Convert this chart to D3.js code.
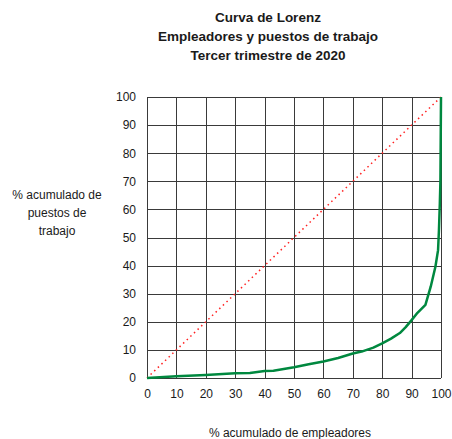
<!DOCTYPE html>
<html lang="es">
<head>
<meta charset="UTF-8" />
<title>Curva de Lorenz</title>
<script src="https://d3js.org/d3.v7.min.js"></script>
<style>
  body { margin: 0; background: #fff; font-family: "Liberation Sans", Arial, sans-serif; }
  .grid line { stroke: #3a3a3a; stroke-width: 1; shape-rendering: crispEdges; }
  .tick text { font-size: 12px; fill: #1a1a1a; font-family: "Liberation Sans", Arial, sans-serif; }
  .lbl { font-size: 12px; fill: #1a1a1a; }
  .title { font-size: 13.5px; font-weight: bold; fill: #1a1a1a; }
</style>
</head>
<body>
<svg id="chart" width="452" height="439"></svg>
<script>
  // % acumulado de empleadores
  const empleadores = [0, 10, 20, 30, 35, 40, 43, 50, 55, 60, 65, 70, 73, 77, 80, 83, 86, 88, 90, 92, 94.7, 96.5, 98.1, 99, 99.3, 99.6, 99.8, 100];
  // % acumulado de puestos de trabajo
  const puestos = [0, 0.6, 1.1, 1.7, 1.8, 2.5, 2.6, 3.8, 4.9, 5.9, 7.1, 8.7, 9.4, 10.8, 12.3, 14.0, 16.0, 18.1, 20.6, 23.2, 26.0, 32.5, 39.6, 45.5, 52.6, 62, 70, 100];
  const ticks = [0, 10, 20, 30, 40, 50, 60, 70, 80, 90, 100];
  const titulo = ["Curva de Lorenz", "Empleadores y puestos de trabajo", "Tercer trimestre de 2020"];
  const ejeY = ["% acumulado de", "puestos de", "trabajo"];
  const ejeX = "% acumulado de empleadores";

  const svg = d3.select("#chart");
  const x = d3.scaleLinear().domain([0, 100]).range([147, 441]);
  const y = d3.scaleLinear().domain([0, 100]).range([378, 97]);

  // grid
  const grid = svg.append("g").attr("class", "grid");
  grid.selectAll("line.v").data(ticks).join("line")
    .attr("class", "v")
    .attr("x1", d => Math.round(x(d)) + 0.5).attr("x2", d => Math.round(x(d)) + 0.5)
    .attr("y1", y(100)).attr("y2", y(0));
  grid.selectAll("line.h").data(ticks).join("line")
    .attr("class", "h")
    .attr("y1", d => Math.round(y(d)) + 0.5).attr("y2", d => Math.round(y(d)) + 0.5)
    .attr("x1", x(0)).attr("x2", x(100));

  // axes (labels only)
  const ax = svg.append("g")
    .attr("transform", `translate(0,${y(0)})`)
    .call(d3.axisBottom(x).tickValues(ticks).tickSize(0).tickPadding(11));
  ax.select(".domain").remove();
  const ay = svg.append("g")
    .attr("transform", `translate(${x(0)},0)`)
    .call(d3.axisLeft(y).tickValues(ticks).tickSize(0).tickPadding(11));
  ay.select(".domain").remove();

  // equality line
  svg.append("path")
    .datum([0, 100])
    .attr("fill", "none")
    .attr("stroke", "#ff2020")
    .attr("stroke-width", 1.5)
    .attr("stroke-dasharray", "1.5,3.5")
    .attr("d", d3.line().x(d => x(d)).y(d => y(d)));

  // Lorenz curve
  const pts = empleadores.map((e, i) => [e, puestos[i]]);
  svg.append("path")
    .datum(pts)
    .attr("fill", "none")
    .attr("stroke", "#00883f")
    .attr("stroke-width", 2.5)
    .attr("stroke-linejoin", "round")
    .attr("d", d3.line().x(d => x(d[0])).y(d => y(d[1])));

  // titles
  svg.selectAll("text.title").data(titulo).join("text")
    .attr("class", "title")
    .attr("x", 268).attr("y", (d, i) => 22 + i * 19)
    .attr("text-anchor", "middle")
    .text(d => d);

  svg.selectAll("text.ylbl").data(ejeY).join("text")
    .attr("class", "lbl ylbl")
    .attr("x", 57).attr("y", (d, i) => 199 + i * 18)
    .attr("text-anchor", "middle")
    .text(d => d);

  svg.append("text")
    .attr("class", "lbl")
    .attr("x", 290).attr("y", 437)
    .attr("text-anchor", "middle")
    .text(ejeX);
</script>
</body>
</html>
